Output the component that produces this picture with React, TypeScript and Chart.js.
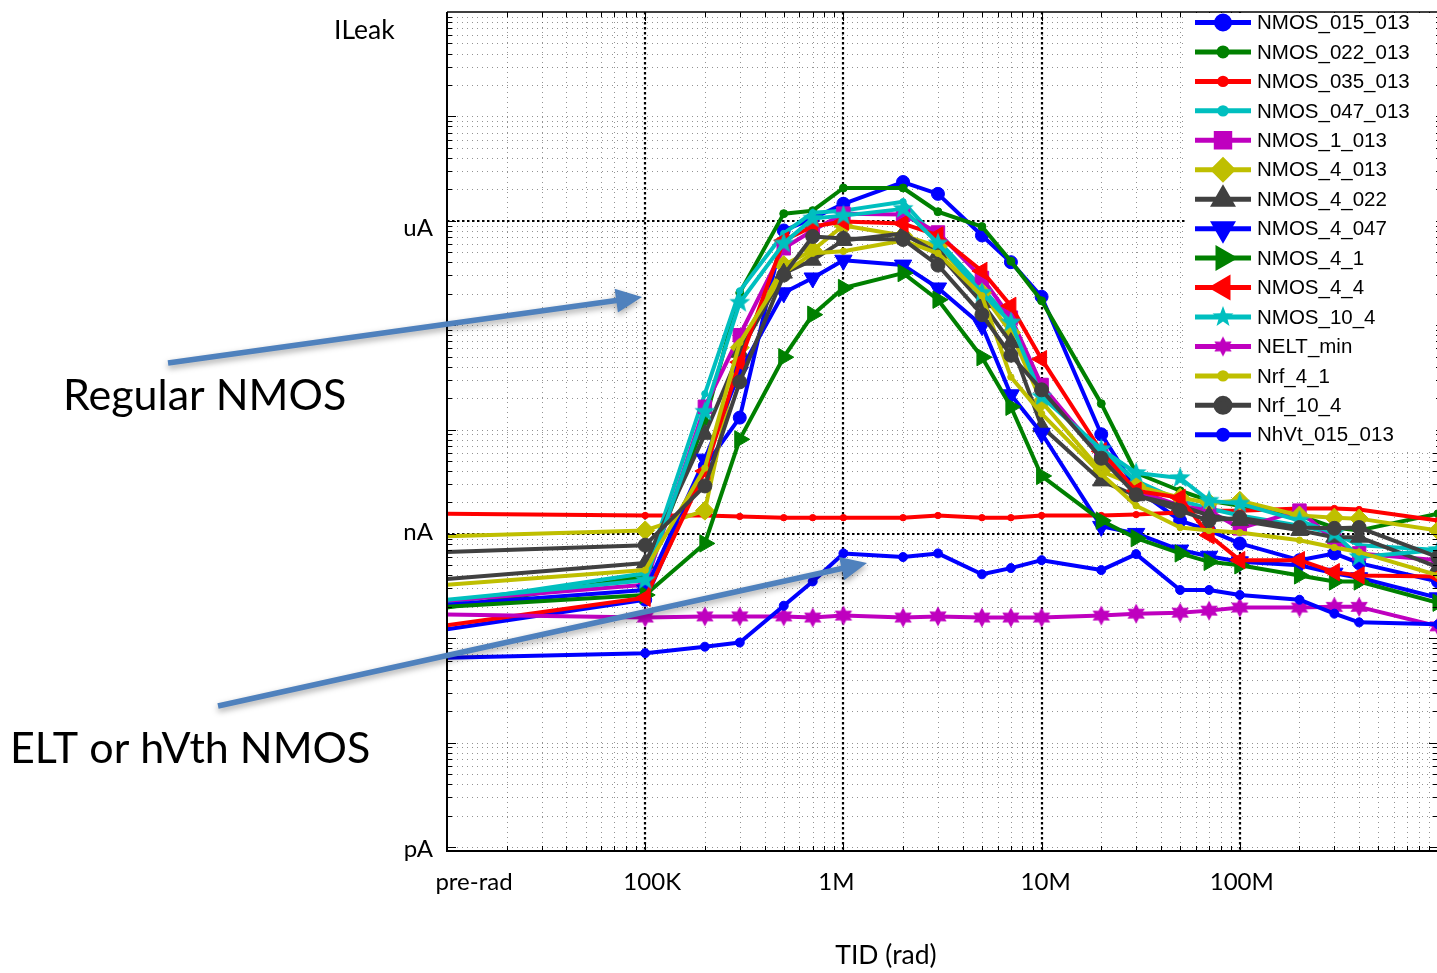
import React, { useEffect, useRef } from 'react';
import { Chart, registerables } from 'chart.js';
import { drawPoint } from 'chart.js/helpers';

Chart.register(...registerables);

// Total ionising dose steps (rad); the first one is the pre-rad reference
const DOSES = [1e4, 1e5, 2e5, 3e5, 5e5, 7e5, 1e6, 2e6, 3e6, 5e6, 7e6, 1e7, 2e7, 3e7, 5e7, 7e7, 1e8, 2e8, 3e8, 4e8, 1e9];

// Leakage current per device, in nA
const NMOS_015_013 = [0.122, 0.234, 4.46, 13.0, 807, 1050, 1455, 2350, 1810, 723, 401, 187, 9.0, 2.7, 1.34, 1.08, 0.81, 0.56, 0.65, 0.525, 0.35];
const NMOS_022_013 = [0.197, 0.39, 11.9, 204, 1170, 1250, 2060, 2060, 1220, 880, 410, 171, 17.7, 3.83, 2.59, 2.08, 1.86, 1.5, 1.15, 1.08, 1.56];
const NMOS_035_013 = [1.56, 1.5, 1.5, 1.47, 1.43, 1.43, 1.43, 1.43, 1.5, 1.43, 1.43, 1.5, 1.5, 1.53, 1.6, 1.67, 1.67, 1.75, 1.75, 1.71, 1.34];
const NMOS_047_013 = [0.219, 0.42, 22.0, 213, 755, 1195, 1250, 1520, 648, 227, 111, 23.0, 6.19, 3.22, 2.08, 1.75, 1.5, 1.2, 1.01, 0.78, 0.7];
const NMOS_1_013 = [0.229, 0.325, 16.5, 80, 545, 807, 1170, 1145, 772, 283, 118, 26.7, 5.55, 2.59, 1.86, 1.67, 1.13, 1.67, 0.87, 0.65, 0.56];
const NMOS_4_013 = [0.95, 1.08, 1.67, 61, 376, 521, 900, 723, 569, 204, 85, 18.5, 4.0, 2.88, 2.22, 1.99, 2.08, 1.5, 1.43, 1.4, 1.08];
const NMOS_4_022 = [0.37, 0.525, 9.0, 55, 315, 419, 648, 755, 488, 164, 68, 10.7, 3.22, 2.32, 1.86, 1.5, 1.34, 1.08, 0.93, 0.93, 0.48];
const NMOS_4_047 = [0.21, 0.29, 5.2, 35.5, 204, 283, 419, 376, 227, 99, 21.5, 9.2, 1.18, 1.01, 0.7, 0.61, 0.54, 0.5, 0.42, 0.38, 0.244];
const NMOS_4_1 = [0.2, 0.26, 0.81, 8.05, 49.3, 126, 227, 315, 175, 49.3, 16.5, 3.59, 1.34, 0.91, 0.65, 0.54, 0.5, 0.4, 0.35, 0.35, 0.219];
const NMOS_4_4 = [0.133, 0.244, 4.0, 44.2, 648, 880, 982, 940, 723, 330, 153, 47.2, 6.19, 2.59, 2.22, 0.97, 0.56, 0.56, 0.43, 0.4, 0.39];
const NMOS_10_4 = [0.234, 0.36, 14.8, 164, 607, 1050, 1120, 1300, 607, 204, 106, 20.6, 6.47, 3.83, 3.43, 2.08, 1.95, 1.34, 1.01, 0.6, 0.7];
const NELT_min = [0.169, 0.158, 0.162, 0.162, 0.162, 0.158, 0.165, 0.158, 0.162, 0.158, 0.158, 0.158, 0.165, 0.172, 0.176, 0.184, 0.197, 0.197, 0.2, 0.2, 0.13];
const Nrf_4_1 = [0.325, 0.45, 4.27, 68, 315, 488, 510, 648, 488, 191, 31.8, 14.2, 3.75, 1.86, 1.15, 1.08, 1.03, 0.87, 0.74, 0.67, 0.4];
const Nrf_10_4 = [0.67, 0.78, 2.88, 28.6, 302, 707, 677, 662, 376, 126, 51.5, 24.0, 5.31, 2.37, 1.67, 1.34, 1.43, 1.15, 1.13, 1.15, 0.6];
const NhVt_015_013 = [0.065, 0.072, 0.083, 0.091, 0.205, 0.35, 0.65, 0.6, 0.65, 0.41, 0.47, 0.56, 0.45, 0.64, 0.29, 0.29, 0.26, 0.234, 0.172, 0.142, 0.136];

const SERIES_NAMES = [
  'NMOS_015_013', 'NMOS_022_013', 'NMOS_035_013', 'NMOS_047_013', 'NMOS_1_013',
  'NMOS_4_013', 'NMOS_4_022', 'NMOS_4_047', 'NMOS_4_1', 'NMOS_4_4',
  'NMOS_10_4', 'NELT_min', 'Nrf_4_1', 'Nrf_10_4', 'NhVt_015_013',
];
const SERIES_VALUES = [
  NMOS_015_013, NMOS_022_013, NMOS_035_013, NMOS_047_013, NMOS_1_013,
  NMOS_4_013, NMOS_4_022, NMOS_4_047, NMOS_4_1, NMOS_4_4,
  NMOS_10_4, NELT_min, Nrf_4_1, Nrf_10_4, NhVt_015_013,
];

// Axis labels (values in nA for the current axis, rad for the dose axis)
const Y_LABELS = ['pA', 'nA', 'uA'];
const Y_LABEL_VALUES = [1e-3, 1, 1e3];
const X_LABELS = ['pre-rad', '100K', '1M', '10M', '100M'];
const X_LABEL_VALUES = [1e4, 1e5, 1e6, 1e7, 1e8];

const BLUE = '#0000ff';
const GREEN = '#008000';
const RED = '#ff0000';
const CYAN = '#00bfbf';
const MAGENTA = '#bf00bf';
const OLIVE = '#bfbf00';
const GREY = '#404040';

const SERIES_COLORS = [BLUE, GREEN, RED, CYAN, MAGENTA, OLIVE, GREY, BLUE, GREEN, RED, CYAN, MAGENTA, OLIVE, GREY, BLUE];
const SERIES_MARKERS = ['circle', 'circle', 'circle', 'circle', 'rect', 'rectRot', 'triangle', 'triangle', 'triangle', 'triangle', 'star5', 'star6', 'circle', 'circle', 'circle'];
const SERIES_MARKER_SIZES = [6.5, 4, 3.2, 3.2, 9.5, 9.5, 10, 10, 10, 10, 11, 10, 3.2, 7, 4.5];
const SERIES_MARKER_ROTATIONS = [0, 0, 0, 0, 0, 0, 0, 180, 90, -90, 0, 0, 0, 0, 0];

const SLIDE_FONT = 'Lato, "Open Sans", sans-serif';
const PLOT_FONT = '"Liberation Sans", Arial, sans-serif';

function makeStar(points: number, outer: number, inner: number, color: string) {
  const size = Math.ceil(outer * 2 + 2);
  const c = document.createElement('canvas');
  c.width = size;
  c.height = size;
  const g = c.getContext('2d')!;
  g.translate(size / 2, size / 2);
  g.beginPath();
  for (let i = 0; i < points * 2; i++) {
    const r = i % 2 === 0 ? outer : inner;
    const a = -Math.PI / 2 + (i * Math.PI) / points;
    const px = r * Math.cos(a);
    const py = r * Math.sin(a);
    if (i === 0) g.moveTo(px, py);
    else g.lineTo(px, py);
  }
  g.closePath();
  g.fillStyle = color;
  g.fill();
  return c;
}

function drawArrow(ctx: CanvasRenderingContext2D, x0: number, y0: number, x1: number, y1: number) {
  const ang = Math.atan2(y1 - y0, x1 - x0);
  const headLen = 26;
  const headHalf = 12;
  const shaftHalf = 2.8;
  const bx = x1 - Math.cos(ang) * headLen;
  const by = y1 - Math.sin(ang) * headLen;
  const nx = -Math.sin(ang);
  const ny = Math.cos(ang);
  ctx.beginPath();
  ctx.moveTo(x0 + nx * shaftHalf, y0 + ny * shaftHalf);
  ctx.lineTo(bx + nx * shaftHalf, by + ny * shaftHalf);
  ctx.lineTo(bx + nx * headHalf, by + ny * headHalf);
  ctx.lineTo(x1, y1);
  ctx.lineTo(bx - nx * headHalf, by - ny * headHalf);
  ctx.lineTo(bx - nx * shaftHalf, by - ny * shaftHalf);
  ctx.lineTo(x0 - nx * shaftHalf, y0 - ny * shaftHalf);
  ctx.closePath();
  ctx.fill();
}

// Dotted log grid, plot frame and inner tick marks
const gridPlugin = {
  id: 'leakGrid',
  beforeDatasetsDraw(chart: any) {
    const { ctx, chartArea: a, scales } = chart;
    const xs = scales.x;
    const ys = scales.y;
    ctx.save();
    ctx.lineCap = 'butt';

    // minor lines
    ctx.strokeStyle = 'rgba(40,40,40,0.5)';
    ctx.lineWidth = 1;
    ctx.setLineDash([1, 4]);
    ctx.beginPath();
    for (let e = 4; e <= 8; e++) {
      for (let k = 1; k <= 9; k++) {
        const v = k * Math.pow(10, e);
        if (v <= 1e4 || [1e5, 1e6, 1e7, 1e8].includes(v)) continue;
        const px = Math.round(xs.getPixelForValue(v)) + 0.5;
        ctx.moveTo(px, a.top);
        ctx.lineTo(px, a.bottom);
      }
    }
    for (let e = -3; e <= 4; e++) {
      for (let k = 1; k <= 9; k++) {
        const v = k * Math.pow(10, e);
        if (v < 1e-3 || v === 1 || v === 1000) continue;
        const py = Math.round(ys.getPixelForValue(v)) + 0.5;
        ctx.moveTo(a.left, py);
        ctx.lineTo(a.right, py);
      }
    }
    ctx.stroke();

    // major lines
    ctx.strokeStyle = '#000';
    ctx.lineWidth = 2.2;
    ctx.setLineDash([2.5, 2.5]);
    ctx.beginPath();
    for (const v of [1e5, 1e6, 1e7, 1e8]) {
      const px = Math.round(xs.getPixelForValue(v));
      ctx.moveTo(px, a.top);
      ctx.lineTo(px, a.bottom);
    }
    for (const v of [1, 1000]) {
      const py = Math.round(ys.getPixelForValue(v));
      ctx.moveTo(a.left, py);
      ctx.lineTo(a.right, py);
    }
    ctx.stroke();
    ctx.restore();
  },
  afterDatasetsDraw(chart: any) {
    const { ctx, chartArea: a, scales } = chart;
    const ys = scales.y;
    const xs = scales.x;
    ctx.save();
    ctx.setLineDash([]);
    ctx.strokeStyle = '#000';
    // inner ticks along the frame
    ctx.lineWidth = 1;
    ctx.beginPath();
    for (let e = -3; e <= 4; e++) {
      for (let k = 1; k <= 9; k++) {
        const v = k * Math.pow(10, e);
        const py = Math.round(ys.getPixelForValue(v)) + 0.5;
        const len = k === 1 ? 9 : 5;
        ctx.moveTo(a.left, py);
        ctx.lineTo(a.left + len, py);
        ctx.moveTo(a.right, py);
        ctx.lineTo(a.right - len, py);
      }
    }
    for (let e = 4; e <= 8; e++) {
      for (let k = 1; k <= 9; k++) {
        const v = k * Math.pow(10, e);
        const px = Math.round(xs.getPixelForValue(v)) + 0.5;
        const len = k === 1 ? 9 : 5;
        ctx.moveTo(px, a.top);
        ctx.lineTo(px, a.top + len);
        ctx.moveTo(px, a.bottom);
        ctx.lineTo(px, a.bottom - len);
      }
    }
    ctx.stroke();
    // frame
    ctx.lineWidth = 2;
    ctx.beginPath();
    ctx.moveTo(a.left, a.top);
    ctx.lineTo(a.left, a.bottom);
    ctx.lineTo(a.right, a.bottom);
    ctx.stroke();
    ctx.lineWidth = 1.5;
    ctx.beginPath();
    ctx.moveTo(a.left, a.top);
    ctx.lineTo(a.right, a.top);
    ctx.stroke();
    ctx.restore();
  },
};

// Legend with line + marker samples, axis labels and call-out arrows
const overlayPlugin = {
  id: 'leakOverlay',
  afterDraw(chart: any) {
    const { ctx, chartArea: a, scales } = chart;
    const xs = scales.x;
    const ys = scales.y;
    ctx.save();

    // legend
    const lx = 1187;
    const top = a.top + 1;
    ctx.fillStyle = '#fff';
    ctx.fillRect(lx, top, a.right - 2 - lx, 450 - top);
    chart.data.datasets.forEach((ds: any, i: number) => {
      const cy = 22.5 + i * 29.45;
      ctx.strokeStyle = ds.borderColor;
      ctx.lineWidth = 5;
      ctx.setLineDash([]);
      ctx.beginPath();
      ctx.moveTo(1195, cy);
      ctx.lineTo(1251, cy);
      ctx.stroke();
      ctx.fillStyle = ds.borderColor;
      ctx.strokeStyle = ds.borderColor;
      drawPoint(ctx, {
        pointStyle: ds.pointStyle,
        rotation: ds.pointRotation,
        radius: SERIES_MARKER_SIZES[i],
        borderWidth: 1,
      } as any, 1223, cy);
      ctx.fillStyle = '#000';
      ctx.font = '20.5px ' + PLOT_FONT;
      ctx.textAlign = 'left';
      ctx.textBaseline = 'middle';
      ctx.fillText(ds.label, 1257, cy + 1);
    });

    // axis texts
    ctx.fillStyle = '#000';
    ctx.textBaseline = 'middle';
    ctx.textAlign = 'left';
    ctx.font = '26.5px ' + SLIDE_FONT;
    ctx.fillText('ILeak', 334, 30);
    ctx.font = '24px ' + SLIDE_FONT;
    ctx.textAlign = 'right';
    const yNudge = [2, -2, 8];
    Y_LABELS.forEach((t, i) => {
      ctx.fillText(t, a.left - 14, ys.getPixelForValue(Y_LABEL_VALUES[i]) + yNudge[i]);
    });
    ctx.textAlign = 'center';
    const xNudge = [27, 7, -7, 4, 2];
    X_LABELS.forEach((t, i) => {
      ctx.fillText(t, xs.getPixelForValue(X_LABEL_VALUES[i]) + xNudge[i], a.bottom + 31);
    });
    ctx.font = '26.5px ' + SLIDE_FONT;
    ctx.fillText('TID (rad)', 886, 955);

    // call-outs
    ctx.font = '43px ' + SLIDE_FONT;
    ctx.textAlign = 'left';
    ctx.fillText('Regular NMOS', 63, 396);
    ctx.fillText('ELT or hVth NMOS', 10, 749);

    ctx.fillStyle = '#4f81bd';
    ctx.shadowColor = 'rgba(0,0,0,0.35)';
    ctx.shadowBlur = 6;
    ctx.shadowOffsetY = 3;
    drawArrow(ctx, 168, 363, 642, 297);
    drawArrow(ctx, 218, 706, 867, 563);
    ctx.restore();
  },
};

export default function App() {
  const canvasRef = useRef<HTMLCanvasElement | null>(null);

  useEffect(() => {
    document.body.style.margin = '0';
    document.body.style.overflow = 'hidden';
    const canvas = canvasRef.current!;
    const styleFor = (i: number) => {
      const m = SERIES_MARKERS[i];
      if (m === 'star5') return makeStar(5, 11, 4.6, SERIES_COLORS[i]);
      if (m === 'star6') return makeStar(6, 10, 5.6, SERIES_COLORS[i]);
      return m;
    };
    const n = SERIES_NAMES.length;
    const datasets = SERIES_NAMES.map((name, i) => ({
      label: name,
      data: DOSES.map((d, j) => ({ x: d, y: SERIES_VALUES[i][j] })),
      borderColor: SERIES_COLORS[i],
      backgroundColor: SERIES_COLORS[i],
      borderWidth: 4,
      borderJoinStyle: 'round' as const,
      borderCapStyle: 'round' as const,
      tension: 0,
      pointStyle: styleFor(i),
      pointRotation: SERIES_MARKER_ROTATIONS[i],
      pointRadius: (c: any) => (c.dataIndex === 0 ? 0 : SERIES_MARKER_SIZES[i]),
      pointBackgroundColor: SERIES_COLORS[i],
      pointBorderColor: SERIES_COLORS[i],
      pointBorderWidth: 1,
      order: n - i,
    }));

    const chart = new Chart(canvas, {
      type: 'line',
      data: { datasets },
      options: {
        animation: false,
        responsive: false,
        layout: { padding: { left: 447, top: 7, right: 8, bottom: 122 } },
        scales: {
          x: { type: 'logarithmic', min: 1e4, max: 1e9, display: false },
          y: { type: 'logarithmic', min: 9.16e-4, max: 1e5, display: false },
        },
        plugins: {
          legend: { display: false },
          tooltip: { enabled: false },
        },
        events: [],
      },
      plugins: [gridPlugin, overlayPlugin],
    });
    const fonts = (document as any).fonts;
    if (fonts && fonts.load) {
      Promise.all([fonts.load('24px Lato'), fonts.load('20px "Liberation Sans"')])
        .then(() => chart.draw())
        .catch(() => {});
    }
    return () => chart.destroy();
  }, []);

  return (
    <div style={{ width: 1437, height: 973, overflow: 'hidden', position: 'relative', background: '#fff' }}>
      <canvas ref={canvasRef} width={1450} height={973} style={{ display: 'block' }} />
    </div>
  );
}
